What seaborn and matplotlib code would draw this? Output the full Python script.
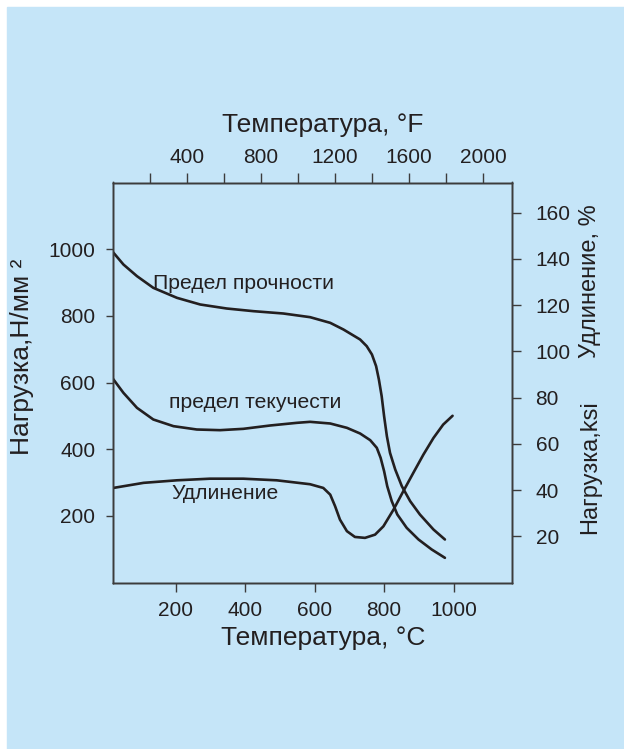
import matplotlib
matplotlib.use('Agg')
import matplotlib.pyplot as plt
import matplotlib.patches as mpatches
from matplotlib.ticker import FixedLocator
import seaborn as sns
import pandas as pd

# Temperature in °C, load in N/mm2, elongation in %
tensile_c = [20, 50, 89, 136, 204, 271, 347, 424, 510, 587, 645, 683, 707, 731, 750, 765,
             777, 785, 793, 800, 808, 817, 832, 851, 875, 903, 942, 975]
tensile_val = [991, 954, 919, 884, 854, 834, 822, 814, 807, 796, 779, 759, 744, 729, 709, 684,
               649, 609, 559, 499, 439, 389, 339, 289, 244, 204, 159, 129]

yield_c = [20, 50, 89, 136, 194, 261, 328, 395, 472, 549, 587, 645, 693, 731, 760, 779,
           790, 800, 809, 822, 838, 865, 899, 937, 975]
yield_val = [611, 569, 524, 489, 469, 459, 457, 461, 471, 479, 482, 477, 464, 447, 427, 404,
             374, 334, 289, 244, 204, 164, 129, 99, 74]

elong_c = [21, 108, 204, 299, 395, 491, 587, 625, 645, 659, 673, 693, 716, 745, 774, 798,
           827, 855, 884, 913, 942, 970, 997]
elong_val = [40.9, 43.1, 44.2, 44.9, 44.9, 44.2, 42.5, 40.9, 38.0, 33.0, 27.2, 22.2, 19.7,
             19.3, 20.7, 24.3, 31.5, 39.4, 47.4, 55.3, 62.5, 68.3, 72.1]

c_ticks = [200, 400, 600, 800, 1000]
f_major = [400, 800, 1200, 1600, 2000]
f_minor = [200, 600, 1000, 1400, 1800]
left_ticks = [200, 400, 600, 800, 1000]
right_ticks = [20, 40, 60, 80, 100, 120, 140, 160]

sns.set_style('ticks')
plt.rcParams['font.family'] = ['Liberation Sans', 'DejaVu Sans']

bg = '#c5e5f8'
ink = '#231f20'
spine_col = '#3c3c3c'

fig = plt.figure(figsize=(6.24, 7.49), dpi=100, facecolor='white')
panel = mpatches.Rectangle((7 / 624, 0), 1 - 7 / 624, 1 - 7 / 749,
                           transform=fig.transFigure, color=bg, zorder=-10)
fig.patches.append(panel)
ax = fig.add_axes([113 / 624, 166.5 / 749, 399 / 624, 400 / 749])
ax.set_facecolor('none')

df_t = pd.DataFrame({'C': tensile_c, 'v': tensile_val})
df_y = pd.DataFrame({'C': yield_c, 'v': yield_val})
df_e = pd.DataFrame({'C': elong_c, 'v': elong_val})

line_kw = dict(color=ink, linewidth=1.9, sort=False, estimator=None, solid_joinstyle='round',
               solid_capstyle='round')
sns.lineplot(data=df_t, x='C', y='v', ax=ax, **line_kw)
sns.lineplot(data=df_y, x='C', y='v', ax=ax, **line_kw)

ax.set_xlim(20, 1168)
ax.set_ylim(0, 1200)
ax.set_xticks(c_ticks)
ax.set_yticks(left_ticks)

# right axis: elongation % and ksi share the same scale
ax2 = ax.twinx()
ax2.set_facecolor('none')
sns.lineplot(data=df_e, x='C', y='v', ax=ax2, **line_kw)
ax2.set_ylim(0, 173)
ax2.set_yticks(right_ticks)
ax2.set_xlim(20, 1168)

# top axis in °F
ax3 = ax.twiny()
ax3.set_facecolor('none')
ax3.set_xlim(0, 2157)
ax3.xaxis.set_major_locator(FixedLocator(f_major))
ax3.xaxis.set_minor_locator(FixedLocator(f_minor))

for a in (ax, ax2, ax3):
    for s in a.spines.values():
        s.set_visible(True)
        s.set_color(spine_col)
        s.set_linewidth(1.0)
    a.set_xlabel('')
    a.set_ylabel('')

ax.tick_params(axis='x', direction='out', length=6.5, width=1, color=spine_col,
               labelsize=15, labelcolor=ink, pad=7, top=False)
ax.tick_params(axis='y', direction='out', length=5.3, width=1, color=spine_col,
               labelsize=15, labelcolor=ink, pad=7.5, right=False)
ax2.tick_params(axis='y', direction='out', length=6.5, width=1, color=spine_col,
                labelsize=15, labelcolor=ink, pad=10.5)
ax3.tick_params(axis='x', which='both', direction='out', length=7, width=1, color=spine_col,
                labelsize=15, labelcolor=ink, pad=4)
ax3.tick_params(axis='x', which='minor', labeltop=False)

# axis titles
ax.set_xlabel('Температура, °C', fontsize=19, color=ink)
ax.xaxis.label.set_va('center')
ax.xaxis.set_label_coords(0.526, -0.139)
ax3.set_xlabel('Температура, °F', fontsize=19, color=ink)
ax3.xaxis.label.set_va('center')
ax3.xaxis.set_label_coords(0.526, 1.144)
ax.set_ylabel('Нагрузка,Н/мм ²', fontsize=19, color=ink)
ax.yaxis.label.set_va('center')
ax.yaxis.set_label_coords(-0.227, 0.564)
ax2.text(1.195, 0.754, 'Удлинение, %', transform=ax.transAxes, rotation=90,
         ha='center', va='center', fontsize=17, color=ink)
ax2.text(1.195, 0.289, 'Нагрузка,ksi', transform=ax.transAxes, rotation=90,
         ha='center', va='center', fontsize=17, color=ink)

# curve labels
ax.text(136, 897, 'Предел прочности', ha='left', va='center', fontsize=15.2, color=ink)
ax.text(180, 541, 'предел текучести', ha='left', va='center', fontsize=15.2, color=ink)
ax.text(189, 267, 'Удлинение', ha='left', va='center', fontsize=15.2, color=ink)

fig.savefig('out.png', dpi=100, facecolor='white')
